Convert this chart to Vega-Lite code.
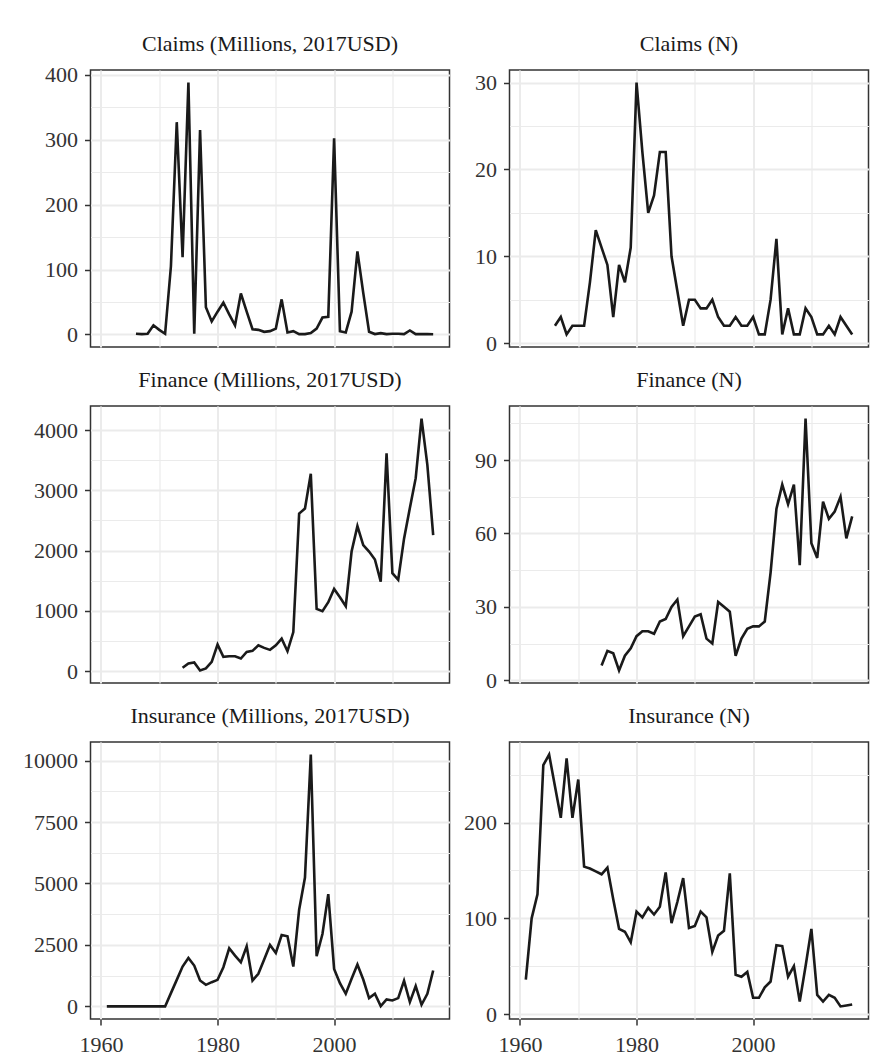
{
  "$schema": "https://vega.github.io/schema/vega-lite/v6.json",
  "background": "white",
  "padding": {"left": 21.5, "top": 32, "right": 10, "bottom": 10},
  "config": {
    "font": "Liberation Serif",
    "view": {"stroke": "#333333", "strokeWidth": 1.5},
    "axis": {"labelFont": "Liberation Serif", "labelFontSize": 22, "labelColor": "#333333", "tickColor": "#333333", "tickWidth": 1.5, "tickSize": 6, "labelPadding": 7, "domain": false, "gridColor": "#EBEBEB"},
    "title": {"font": "Liberation Serif", "fontSize": 22, "fontWeight": "normal", "color": "#1a1a1a", "anchor": "middle", "frame": "group", "baseline": "alphabetic", "offset": 14},
    "line": {"color": "#1a1a1a", "strokeWidth": 2.6}
  },
  "datasets": {
    "claims_usd": [
      {"year":1966,"value":1},{"year":1967,"value":0.5},{"year":1968,"value":1},{"year":1969,"value":14},{"year":1970,"value":7},{"year":1971,"value":1},{"year":1972,"value":105},{"year":1973,"value":327},{"year":1974,"value":119},{"year":1975,"value":388},{"year":1976,"value":1},{"year":1977,"value":315},{"year":1978,"value":42},{"year":1979,"value":20},{"year":1980,"value":35},{"year":1981,"value":49},{"year":1982,"value":31},{"year":1983,"value":14},{"year":1984,"value":63},{"year":1985,"value":35},{"year":1986,"value":8},{"year":1987,"value":7},{"year":1988,"value":4},{"year":1989,"value":5},{"year":1990,"value":9},{"year":1991,"value":54},{"year":1992,"value":3},{"year":1993,"value":5},{"year":1994,"value":0.5},{"year":1995,"value":0.5},{"year":1996,"value":2},{"year":1997,"value":9},{"year":1998,"value":26},{"year":1999,"value":27},{"year":2000,"value":302},{"year":2001,"value":5},{"year":2002,"value":3},{"year":2003,"value":35},{"year":2004,"value":128},{"year":2005,"value":64},{"year":2006,"value":4},{"year":2007,"value":0.5},{"year":2008,"value":2},{"year":2009,"value":0.5},{"year":2010,"value":1},{"year":2011,"value":1},{"year":2012,"value":0.5},{"year":2013,"value":6},{"year":2014,"value":0.5},{"year":2015,"value":0.5},{"year":2016,"value":0.5},{"year":2017,"value":0.3}
    ],
    "claims_n": [
      {"year":1966,"value":2},{"year":1967,"value":3},{"year":1968,"value":1},{"year":1969,"value":2},{"year":1970,"value":2},{"year":1971,"value":2},{"year":1972,"value":7},{"year":1973,"value":13},{"year":1974,"value":11},{"year":1975,"value":9},{"year":1976,"value":3},{"year":1977,"value":9},{"year":1978,"value":7},{"year":1979,"value":11},{"year":1980,"value":30},{"year":1981,"value":22},{"year":1982,"value":15},{"year":1983,"value":17},{"year":1984,"value":22},{"year":1985,"value":22},{"year":1986,"value":10},{"year":1987,"value":6},{"year":1988,"value":2},{"year":1989,"value":5},{"year":1990,"value":5},{"year":1991,"value":4},{"year":1992,"value":4},{"year":1993,"value":5},{"year":1994,"value":3},{"year":1995,"value":2},{"year":1996,"value":2},{"year":1997,"value":3},{"year":1998,"value":2},{"year":1999,"value":2},{"year":2000,"value":3},{"year":2001,"value":1},{"year":2002,"value":1},{"year":2003,"value":5},{"year":2004,"value":12},{"year":2005,"value":1},{"year":2006,"value":4},{"year":2007,"value":1},{"year":2008,"value":1},{"year":2009,"value":4},{"year":2010,"value":3},{"year":2011,"value":1},{"year":2012,"value":1},{"year":2013,"value":2},{"year":2014,"value":1},{"year":2015,"value":3},{"year":2016,"value":2},{"year":2017,"value":1}
    ],
    "finance_usd": [
      {"year":1974,"value":55},{"year":1975,"value":126},{"year":1976,"value":143},{"year":1977,"value":11},{"year":1978,"value":44},{"year":1979,"value":154},{"year":1980,"value":440},{"year":1981,"value":236},{"year":1982,"value":247},{"year":1983,"value":247},{"year":1984,"value":209},{"year":1985,"value":319},{"year":1986,"value":335},{"year":1987,"value":428},{"year":1988,"value":385},{"year":1989,"value":352},{"year":1990,"value":428},{"year":1991,"value":538},{"year":1992,"value":330},{"year":1993,"value":648},{"year":1994,"value":2615},{"year":1995,"value":2698},{"year":1996,"value":3275},{"year":1997,"value":1033},{"year":1998,"value":995},{"year":1999,"value":1143},{"year":2000,"value":1363},{"year":2001,"value":1225},{"year":2002,"value":1077},{"year":2003,"value":1984},{"year":2004,"value":2407},{"year":2005,"value":2093},{"year":2006,"value":1984},{"year":2007,"value":1852},{"year":2008,"value":1484},{"year":2009,"value":3615},{"year":2010,"value":1626},{"year":2011,"value":1516},{"year":2012,"value":2198},{"year":2013,"value":2709},{"year":2014,"value":3203},{"year":2015,"value":4192},{"year":2016,"value":3423},{"year":2017,"value":2258}
    ],
    "finance_n": [
      {"year":1974,"value":6},{"year":1975,"value":12},{"year":1976,"value":11},{"year":1977,"value":4},{"year":1978,"value":10},{"year":1979,"value":13},{"year":1980,"value":18},{"year":1981,"value":20},{"year":1982,"value":20},{"year":1983,"value":19},{"year":1984,"value":24},{"year":1985,"value":25},{"year":1986,"value":30},{"year":1987,"value":33},{"year":1988,"value":18},{"year":1989,"value":22},{"year":1990,"value":26},{"year":1991,"value":27},{"year":1992,"value":17},{"year":1993,"value":15},{"year":1994,"value":32},{"year":1995,"value":30},{"year":1996,"value":28},{"year":1997,"value":10},{"year":1998,"value":17},{"year":1999,"value":21},{"year":2000,"value":22},{"year":2001,"value":22},{"year":2002,"value":24},{"year":2003,"value":44},{"year":2004,"value":70},{"year":2005,"value":80},{"year":2006,"value":72},{"year":2007,"value":80},{"year":2008,"value":47},{"year":2009,"value":107},{"year":2010,"value":56},{"year":2011,"value":50},{"year":2012,"value":73},{"year":2013,"value":66},{"year":2014,"value":69},{"year":2015,"value":75},{"year":2016,"value":58},{"year":2017,"value":67}
    ],
    "insurance_usd": [
      {"year":1961,"value":0},{"year":1962,"value":0},{"year":1963,"value":0},{"year":1964,"value":0},{"year":1965,"value":0},{"year":1966,"value":0},{"year":1967,"value":0},{"year":1968,"value":0},{"year":1969,"value":0},{"year":1970,"value":0},{"year":1971,"value":0},{"year":1972,"value":540},{"year":1973,"value":1080},{"year":1974,"value":1620},{"year":1975,"value":1973},{"year":1976,"value":1662},{"year":1977,"value":1054},{"year":1978,"value":878},{"year":1979,"value":986},{"year":1980,"value":1081},{"year":1981,"value":1595},{"year":1982,"value":2365},{"year":1983,"value":2068},{"year":1984,"value":1797},{"year":1985,"value":2446},{"year":1986,"value":1054},{"year":1987,"value":1324},{"year":1988,"value":1905},{"year":1989,"value":2500},{"year":1990,"value":2176},{"year":1991,"value":2905},{"year":1992,"value":2851},{"year":1993,"value":1622},{"year":1994,"value":3932},{"year":1995,"value":5243},{"year":1996,"value":10243},{"year":1997,"value":2041},{"year":1998,"value":2946},{"year":1999,"value":4568},{"year":2000,"value":1527},{"year":2001,"value":946},{"year":2002,"value":514},{"year":2003,"value":1122},{"year":2004,"value":1703},{"year":2005,"value":1095},{"year":2006,"value":338},{"year":2007,"value":514},{"year":2008,"value":14},{"year":2009,"value":284},{"year":2010,"value":243},{"year":2011,"value":338},{"year":2012,"value":1041},{"year":2013,"value":176},{"year":2014,"value":824},{"year":2015,"value":68},{"year":2016,"value":514},{"year":2017,"value":1459}
    ],
    "insurance_n": [
      {"year":1961,"value":36},{"year":1962,"value":100},{"year":1963,"value":125},{"year":1964,"value":260},{"year":1965,"value":271},{"year":1966,"value":238},{"year":1967,"value":205},{"year":1968,"value":267},{"year":1969,"value":205},{"year":1970,"value":245},{"year":1971,"value":154},{"year":1972,"value":152},{"year":1973,"value":149},{"year":1974,"value":146},{"year":1975,"value":153},{"year":1976,"value":120},{"year":1977,"value":89},{"year":1978,"value":86},{"year":1979,"value":75},{"year":1980,"value":107},{"year":1981,"value":101},{"year":1982,"value":111},{"year":1983,"value":104},{"year":1984,"value":112},{"year":1985,"value":148},{"year":1986,"value":95},{"year":1987,"value":117},{"year":1988,"value":142},{"year":1989,"value":90},{"year":1990,"value":92},{"year":1991,"value":107},{"year":1992,"value":101},{"year":1993,"value":65},{"year":1994,"value":82},{"year":1995,"value":87},{"year":1996,"value":147},{"year":1997,"value":41},{"year":1998,"value":39},{"year":1999,"value":44},{"year":2000,"value":17},{"year":2001,"value":17},{"year":2002,"value":28},{"year":2003,"value":34},{"year":2004,"value":72},{"year":2005,"value":71},{"year":2006,"value":39},{"year":2007,"value":50},{"year":2008,"value":13},{"year":2009,"value":50},{"year":2010,"value":89},{"year":2011,"value":20},{"year":2012,"value":13},{"year":2013,"value":20},{"year":2014,"value":17},{"year":2015,"value":8},{"year":2016,"value":9},{"year":2017,"value":10}
    ]
  },
  "columns": 2,
  "bounds": "flush",
  "spacing": {"row": 59, "column": 60},
  "concat": [
    {
      "title": {"text": "Claims (Millions, 2017USD)", "offset": 8},
      "width": 359, "height": 277,
      "data": {"name": "claims_usd"},
      "mark": {"type": "line"},
      "encoding": {
        "x": {"field": "year", "type": "quantitative", "scale": {"domain": [1958.2, 2019.8], "nice": false, "zero": false},
              "axis": {"title": null, "values": [1960,1970,1980,1990,2000,2010], "labels": false, "ticks": false,
                       "gridWidth": {"condition": {"test": "datum.value % 20 === 0", "value": 2}, "value": 1.2}}},
        "y": {"field": "value", "type": "quantitative", "scale": {"domain": [-19.4, 407.4], "nice": false, "zero": false},
              "axis": {"title": null, "values": [0,50,100,150,200,250,300,350,400], "format": "d",
                       "labelExpr": "datum.value % 100 === 0 ? datum.label : ''",
                       "tickOpacity": {"condition": {"test": "datum.value % 100 === 0", "value": 1}, "value": 0},
                       "gridWidth": {"condition": {"test": "datum.value % 100 === 0", "value": 2}, "value": 1.2}}}
      }
    },
    {
      "title": {"text": "Claims (N)"},
      "width": 359, "height": 277,
      "data": {"name": "claims_n"},
      "mark": {"type": "line"},
      "encoding": {
        "x": {"field": "year", "type": "quantitative", "scale": {"domain": [1958.2, 2019.8], "nice": false, "zero": false},
              "axis": {"title": null, "values": [1960,1970,1980,1990,2000,2010], "labels": false, "ticks": false,
                       "gridWidth": {"condition": {"test": "datum.value % 20 === 0", "value": 2}, "value": 1.2}}},
        "y": {"field": "value", "type": "quantitative", "scale": {"domain": [-0.45, 31.45], "nice": false, "zero": false},
              "axis": {"title": null, "values": [0,5,10,15,20,25,30], "format": "d",
                       "labelExpr": "datum.value % 10 === 0 ? datum.label : ''",
                       "tickOpacity": {"condition": {"test": "datum.value % 10 === 0", "value": 1}, "value": 0},
                       "gridWidth": {"condition": {"test": "datum.value % 10 === 0", "value": 2}, "value": 1.2}}}
      }
    },
    {
      "title": {"text": "Finance (Millions, 2017USD)"},
      "width": 359, "height": 277,
      "data": {"name": "finance_usd"},
      "mark": {"type": "line"},
      "encoding": {
        "x": {"field": "year", "type": "quantitative", "scale": {"domain": [1958.2, 2019.8], "nice": false, "zero": false},
              "axis": {"title": null, "values": [1960,1970,1980,1990,2000,2010], "labels": false, "ticks": false,
                       "gridWidth": {"condition": {"test": "datum.value % 20 === 0", "value": 2}, "value": 1.2}}},
        "y": {"field": "value", "type": "quantitative", "scale": {"domain": [-198, 4401], "nice": false, "zero": false},
              "axis": {"title": null, "values": [0,500,1000,1500,2000,2500,3000,3500,4000], "format": "d",
                       "labelExpr": "datum.value % 1000 === 0 ? datum.label : ''",
                       "tickOpacity": {"condition": {"test": "datum.value % 1000 === 0", "value": 1}, "value": 0},
                       "gridWidth": {"condition": {"test": "datum.value % 1000 === 0", "value": 2}, "value": 1.2}}}
      }
    },
    {
      "title": {"text": "Finance (N)"},
      "width": 359, "height": 277,
      "data": {"name": "finance_n"},
      "mark": {"type": "line"},
      "encoding": {
        "x": {"field": "year", "type": "quantitative", "scale": {"domain": [1958.2, 2019.8], "nice": false, "zero": false},
              "axis": {"title": null, "values": [1960,1970,1980,1990,2000,2010], "labels": false, "ticks": false,
                       "gridWidth": {"condition": {"test": "datum.value % 20 === 0", "value": 2}, "value": 1.2}}},
        "y": {"field": "value", "type": "quantitative", "scale": {"domain": [-1.15, 112.15], "nice": false, "zero": false},
              "axis": {"title": null, "values": [0,15,30,45,60,75,90,105], "format": "d",
                       "labelExpr": "datum.value % 30 === 0 ? datum.label : ''",
                       "tickOpacity": {"condition": {"test": "datum.value % 30 === 0", "value": 1}, "value": 0},
                       "gridWidth": {"condition": {"test": "datum.value % 30 === 0", "value": 2}, "value": 1.2}}}
      }
    },
    {
      "title": {"text": "Insurance (Millions, 2017USD)"},
      "width": 359, "height": 277,
      "data": {"name": "insurance_usd"},
      "mark": {"type": "line"},
      "encoding": {
        "x": {"field": "year", "type": "quantitative", "scale": {"domain": [1958.2, 2019.8], "nice": false, "zero": false},
              "axis": {"title": null, "values": [1960,1970,1980,1990,2000,2010], "format": "d", "labelPadding": 9,
                       "labelExpr": "datum.value % 20 === 0 ? datum.label : ''",
                       "tickOpacity": {"condition": {"test": "datum.value % 20 === 0", "value": 1}, "value": 0},
                       "gridWidth": {"condition": {"test": "datum.value % 20 === 0", "value": 2}, "value": 1.2}}},
        "y": {"field": "value", "type": "quantitative", "scale": {"domain": [-512, 10755], "nice": false, "zero": false},
              "axis": {"title": null, "values": [0,1250,2500,3750,5000,6250,7500,8750,10000], "format": "d",
                       "labelExpr": "datum.value % 2500 === 0 ? datum.label : ''",
                       "tickOpacity": {"condition": {"test": "datum.value % 2500 === 0", "value": 1}, "value": 0},
                       "gridWidth": {"condition": {"test": "datum.value % 2500 === 0", "value": 2}, "value": 1.2}}}
      }
    },
    {
      "title": {"text": "Insurance (N)"},
      "width": 359, "height": 277,
      "data": {"name": "insurance_n"},
      "mark": {"type": "line"},
      "encoding": {
        "x": {"field": "year", "type": "quantitative", "scale": {"domain": [1958.2, 2019.8], "nice": false, "zero": false},
              "axis": {"title": null, "values": [1960,1970,1980,1990,2000,2010], "format": "d", "labelPadding": 9,
                       "labelExpr": "datum.value % 20 === 0 ? datum.label : ''",
                       "tickOpacity": {"condition": {"test": "datum.value % 20 === 0", "value": 1}, "value": 0},
                       "gridWidth": {"condition": {"test": "datum.value % 20 === 0", "value": 2}, "value": 1.2}}},
        "y": {"field": "value", "type": "quantitative", "scale": {"domain": [-5.15, 284.15], "nice": false, "zero": false},
              "axis": {"title": null, "values": [0,50,100,150,200,250], "format": "d",
                       "labelExpr": "datum.value % 100 === 0 ? datum.label : ''",
                       "tickOpacity": {"condition": {"test": "datum.value % 100 === 0", "value": 1}, "value": 0},
                       "gridWidth": {"condition": {"test": "datum.value % 100 === 0", "value": 2}, "value": 1.2}}}
      }
    }
  ]
}
